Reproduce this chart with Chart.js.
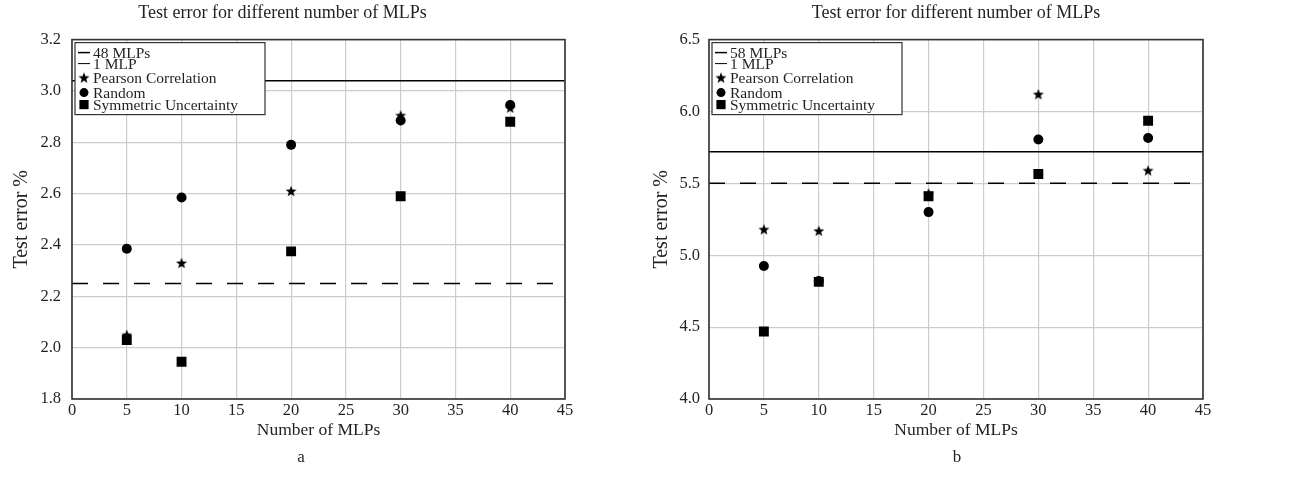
<!DOCTYPE html>
<html>
<head>
<meta charset="utf-8">
<script src="https://cdn.jsdelivr.net/npm/chart.js@4.4.0/dist/chart.umd.min.js"></script>
<style>
  html, body { margin: 0; padding: 0; background: #fff; }
  body { width: 1298px; height: 483px; position: relative; overflow: hidden; font-family: "Liberation Serif", serif; color: #231f20; }
  canvas { position: absolute; top: 0; }
  #chartA { left: 0; }
  #chartB { left: 637px; }
  .caption { position: absolute; top: 447px; font-size: 17px; transform: translateX(-50%); }
</style>
</head>
<body>
<canvas id="chartA" width="628" height="450"></canvas>
<canvas id="chartB" width="661" height="450"></canvas>
<div class="caption" style="left:301px">a</div>
<div class="caption" style="left:957px">b</div>
<script>
// ===== Data =====
const mlpCounts = [5, 10, 20, 30, 40];
const xTickValues = [0, 5, 10, 15, 20, 25, 30, 35, 40, 45];

// panel a
const yTicksA = [1.8, 2.0, 2.2, 2.4, 2.6, 2.8, 3.0, 3.2];
const pearsonA = [2.05, 2.33, 2.61, 2.905, 2.935];
const randomA = [2.385, 2.585, 2.79, 2.885, 2.945];
const symmetricA = [2.03, 1.945, 2.375, 2.59, 2.88];
const allMlpsA = 3.04; // 48 MLPs
const oneMlpA = 2.25;

// panel b
const yTicksB = [4.0, 4.5, 5.0, 5.5, 6.0, 6.5];
const pearsonB = [5.18, 5.17, 5.43, 6.12, 5.59];
const randomB = [4.925, 4.82, 5.3, 5.805, 5.815];
const symmetricB = [4.47, 4.815, 5.41, 5.565, 5.935];
const allMlpsB = 5.72; // 58 MLPs
const oneMlpB = 5.5;

const chartTitle = "Test error for different number of MLPs";
const ink = "#231f20";
const gridColor = "#cccccc";
const serif = "'Liberation Serif', 'Times New Roman', serif";

// ===== Helpers =====
function starImage(r) {
  const size = Math.ceil(r * 2) + 2;
  const c = document.createElement("canvas");
  c.width = size;
  c.height = size;
  const g = c.getContext("2d");
  const cx = size / 2, cy = size / 2 + 0.5;
  g.beginPath();
  for (let i = 0; i < 10; i++) {
    const rad = i % 2 === 0 ? r : r * 0.42;
    const a = -Math.PI / 2 + (i * Math.PI) / 5;
    g.lineTo(cx + rad * Math.cos(a), cy + rad * Math.sin(a));
  }
  g.closePath();
  g.fillStyle = "#000";
  g.fill();
  return c;
}
const starStyle = starImage(5.8);

const toPoints = (ys) => mlpCounts.map((x, i) => ({ x, y: ys[i] }));
const levelPoints = (v) => [xTickValues[0], xTickValues[xTickValues.length - 1]].map((x) => ({ x, y: v }));

function buildDatasets(allLabel, allLevel, oneLevel, pearson, random, symmetric) {
  return [
    { label: allLabel, data: levelPoints(allLevel), showLine: true, borderColor: "#000", borderWidth: 1.5, pointRadius: 0, order: 5 },
    { label: "1 MLP", data: levelPoints(oneLevel), showLine: true, borderColor: "#000", borderWidth: 1.5, borderDash: [16, 15], pointRadius: 0, order: 4 },
    { label: "Pearson Correlation", data: toPoints(pearson), pointStyle: starStyle, pointRadius: 6, backgroundColor: "#000", borderWidth: 0, order: 3 },
    { label: "Random", data: toPoints(random), pointStyle: "circle", pointRadius: 5, backgroundColor: "#000", borderWidth: 0, order: 2 },
    { label: "Symmetric Uncertainty", data: toPoints(symmetric), pointStyle: "rect", pointRadius: 7, backgroundColor: "#000", borderWidth: 0, order: 1 },
  ];
}

// frame round the plot + boxed legend inside it
const framePlugin = {
  id: "frame",
  afterDatasetsDraw(chart) {
    const { ctx, chartArea: a } = chart;
    ctx.save();
    ctx.strokeStyle = "#333";
    ctx.lineWidth = 1.6;
    ctx.strokeRect(a.left, a.top, a.right - a.left, a.bottom - a.top);
    ctx.restore();
  },
};

const boxLegend = {
  id: "boxLegend",
  afterDatasetsDraw(chart, args, opts) {
    const { ctx, chartArea } = chart;
    const x0 = chartArea.left + opts.dx, y0 = chartArea.top + opts.dy;
    ctx.save();
    ctx.fillStyle = "#fff";
    ctx.fillRect(x0, y0, opts.w, opts.h);
    ctx.strokeStyle = "#333";
    ctx.lineWidth = 1.2;
    ctx.strokeRect(x0, y0, opts.w, opts.h);
    ctx.font = `${opts.fontSize}px ${serif}`;
    ctx.textBaseline = "middle";
    chart.data.datasets.forEach((ds, i) => {
      const cy = y0 + opts.rows[i];
      ctx.fillStyle = "#000";
      ctx.strokeStyle = "#000";
      if (ds.showLine) {
        ctx.lineWidth = i === 0 ? 1.5 : 1;
        ctx.beginPath();
        ctx.moveTo(x0 + 3, cy);
        ctx.lineTo(x0 + 15, cy);
        ctx.stroke();
      } else {
        Chart.helpers.drawPoint(ctx, { pointStyle: ds.pointStyle, radius: ds.pointRadius - 0.5, rotation: 0, borderWidth: 0 }, x0 + 9, cy);
      }
      ctx.fillStyle = ink;
      ctx.fillText(ds.label, x0 + 18, cy + 1);
    });
    ctx.restore();
  },
};

function makeOptions(cfg) {
  const tickFont = { family: serif, size: 16.5 };
  return {
    responsive: false,
    animation: false,
    layout: { padding: { left: 0, right: cfg.padRight, top: 0, bottom: 0 } },
    plugins: {
      legend: { display: false },
      tooltip: { enabled: false },
      title: {
        display: true,
        fullSize: cfg.titleFull,
        text: chartTitle,
        color: ink,
        font: { family: serif, size: 18, weight: "normal" },
        padding: { top: 2, bottom: 16 },
      },
      boxLegend: { dx: 3, dy: 3, w: 190, h: 72, fontSize: 15.5, rows: [10, 21, 35, 50, 62] },
    },
    scales: {
      x: {
        type: "linear",
        min: xTickValues[0],
        max: xTickValues[xTickValues.length - 1],
        afterBuildTicks: (s) => { s.ticks = xTickValues.map((value) => ({ value })); },
        afterFit: (s) => { s.height = 51; },
        grid: { color: gridColor, lineWidth: 1.2, drawTicks: false },
        border: { display: false },
        ticks: { color: ink, font: tickFont, padding: 2, maxRotation: 0 },
        title: { display: true, text: "Number of MLPs", color: ink, font: { family: serif, size: 17.5 }, padding: { top: 0, bottom: 9 } },
      },
      y: {
        type: "linear",
        min: cfg.yTicks[0],
        max: cfg.yTicks[cfg.yTicks.length - 1],
        afterBuildTicks: (s) => { s.ticks = cfg.yTicks.map((value) => ({ value })); },
        afterFit: (s) => { s.width = 72; },
        grid: { color: gridColor, lineWidth: 1.2, drawTicks: false },
        border: { display: false },
        ticks: { color: ink, font: tickFont, padding: cfg.tickPad, callback: (v) => Number(v).toFixed(1) },
        title: { display: true, text: "Test error %", color: ink, font: { family: serif, size: 20 }, padding: { top: cfg.titlePad, bottom: 0 } },
      },
    },
  };
}

new Chart(document.getElementById("chartA"), {
  type: "scatter",
  data: { datasets: buildDatasets("48 MLPs", allMlpsA, oneMlpA, pearsonA, randomA, symmetricA) },
  options: makeOptions({ yTicks: yTicksA, padRight: 63, tickPad: 11, titlePad: 10, titleFull: true }),
  plugins: [framePlugin, boxLegend],
});

new Chart(document.getElementById("chartB"), {
  type: "scatter",
  data: { datasets: buildDatasets("58 MLPs", allMlpsB, oneMlpB, pearsonB, randomB, symmetricB) },
  options: makeOptions({ yTicks: yTicksB, padRight: 95, tickPad: 9, titlePad: 13, titleFull: false }),
  plugins: [framePlugin, boxLegend],
});
</script>
</body>
</html>
